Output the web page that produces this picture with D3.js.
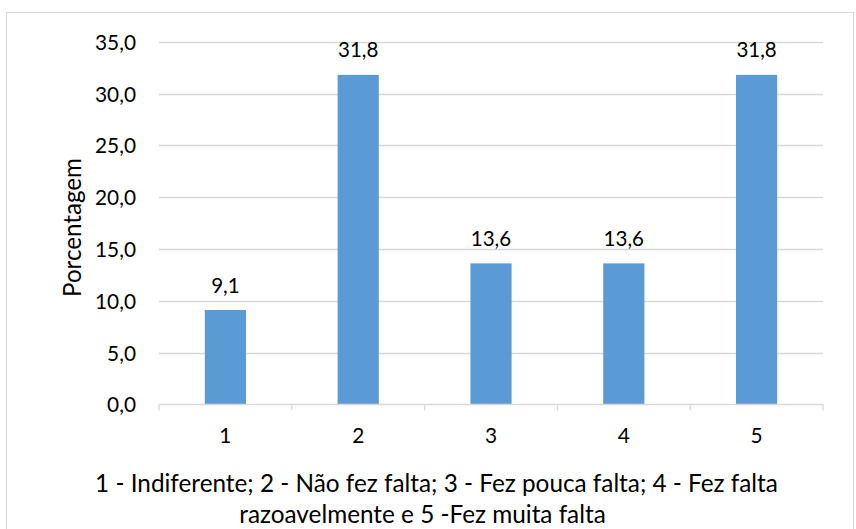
<!DOCTYPE html>
<html>
<head>
<meta charset="utf-8">
<script src="https://cdn.jsdelivr.net/npm/d3@7"></script>
<style>
  html, body { margin: 0; padding: 0; background: #fff; }
  svg { display: block; }
  text { font-family: Lato, "Open Sans", sans-serif; fill: #000; }
</style>
</head>
<body>
<script>
// Response categories and their share of answers (%)
const categories = ["1", "2", "3", "4", "5"];
const values = [9.1, 31.8, 13.6, 13.6, 31.8];
const yTicks = [0, 5, 10, 15, 20, 25, 30, 35];
const yLabel = "Porcentagem";
const caption = [
  "1 - Indiferente; 2 - Não fez falta; 3 - Fez pouca falta; 4 - Fez falta",
  "razoavelmente e 5 -Fez muita falta"
];

const W = 856, H = 529;
const plot = { left: 159, right: 823, top: 41.7, bottom: 404.3 };
const fmt = v => d3.format(".1f")(v).replace(".", ",");

const svg = d3.select("body").append("svg").attr("width", W).attr("height", H);

// scale a text's font size so that a sample string spans the wanted width
function fitSize(sample, width, base) {
  const t = svg.append("text").attr("font-size", base).text(sample);
  const w = t.node().getComputedTextLength();
  t.remove();
  return base * width / w;
}
const tickSize = fitSize("35,0", 41, 18);
const valueSize = fitSize("9,1", 28.5, 18);
const titleSize = fitSize(yLabel, 139, 20);
const capSize = fitSize(caption[0], 683, 20);

// chart frame
svg.append("rect")
  .attr("x", 6.5).attr("y", 12.5).attr("width", 847).attr("height", 530)
  .attr("fill", "#fff").attr("stroke", "#d9d9d9").attr("stroke-width", 1);

const x = d3.scaleBand().domain(categories).range([plot.left, plot.right]).paddingInner(0.69).paddingOuter(0.345);
const xOuter = d3.scaleBand().domain(categories).range([plot.left, plot.right]);
const y = d3.scaleLinear().domain([0, 35]).range([plot.bottom, plot.top]);

// gridlines
svg.append("g").selectAll("line").data(yTicks.filter(t => t > 0)).join("line")
  .attr("x1", plot.left).attr("x2", plot.right)
  .attr("y1", d => Math.round(y(d)) + 0.5).attr("y2", d => Math.round(y(d)) + 0.5)
  .attr("stroke", "#d9d9d9").attr("stroke-width", 1.3);

// y axis labels
const yAxis = d3.axisLeft(y).tickValues(yTicks).tickFormat(fmt).tickSize(0).tickPadding(0);
const gy = svg.append("g").attr("transform", `translate(${plot.left - 23},0)`).call(yAxis);
gy.select(".domain").remove();
gy.selectAll("text").attr("font-size", tickSize).attr("font-family", "Lato, sans-serif")
  .attr("fill", "#000").attr("dy", "0.36em");

// bars
svg.append("g").selectAll("rect").data(values).join("rect")
  .attr("x", (d, i) => x(categories[i]))
  .attr("width", x.bandwidth())
  .attr("y", d => y(d))
  .attr("height", d => y(0) - y(d))
  .attr("fill", "#5b9bd5");

// value labels
svg.append("g").selectAll("text").data(values).join("text")
  .attr("x", (d, i) => x(categories[i]) + x.bandwidth() / 2)
  .attr("y", d => y(d) - 17.5)
  .attr("text-anchor", "middle").attr("font-size", valueSize)
  .text(d => fmt(d));

// x axis line with category separators
const gx = svg.append("g").attr("transform", `translate(0,${Math.round(plot.bottom) + 0.5})`);
gx.append("line").attr("x1", plot.left).attr("x2", plot.right).attr("stroke", "#d9d9d9").attr("stroke-width", 1.3);
const bounds = categories.map(c => xOuter(c)).concat([plot.right]);
gx.selectAll("line.sep").data(bounds).join("line").attr("class", "sep")
  .attr("x1", d => d).attr("x2", d => d).attr("y1", 0).attr("y2", 6)
  .attr("stroke", "#d9d9d9").attr("stroke-width", 1.3);
gx.selectAll("text").data(categories).join("text")
  .attr("x", d => xOuter(d) + xOuter.bandwidth() / 2)
  .attr("y", 38.5)
  .attr("text-anchor", "middle").attr("font-size", tickSize)
  .text(d => d);

// y axis title
svg.append("text")
  .attr("transform", `translate(80.5,227.5) rotate(-90)`)
  .attr("text-anchor", "middle").attr("font-size", titleSize)
  .text(yLabel);

// caption below the axis
const capX = [436.5, 422.5];
svg.append("g").selectAll("text").data(caption).join("text")
  .attr("x", (d, i) => capX[i]).attr("y", (d, i) => 491.5 + i * 31.5)
  .attr("text-anchor", "middle").attr("font-size", capSize)
  .text(d => d);
</script>
</body>
</html>
